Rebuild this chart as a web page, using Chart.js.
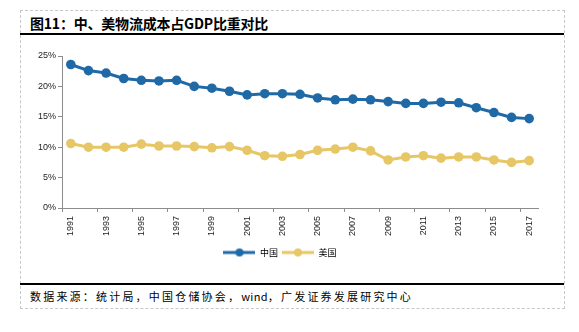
<!DOCTYPE html>
<html>
<head>
<meta charset="utf-8">
<script src="https://cdn.jsdelivr.net/npm/chart.js@4.4.1/dist/chart.umd.min.js"></script>
<style>
    body { margin: 0; background: #fff; width: 579px; height: 332px; position: relative; overflow: hidden; }
    .dash { position: absolute; border: 1px dashed #c8c8c8; }
    .rule { position: absolute; height: 2px; background: #000; }
    #title {
        position: absolute; left: 30px; top: 13px;
        font: bold 14px "Noto Sans CJK SC", sans-serif; color: #000; letter-spacing: -0.2px;
    }
    #source {
        position: absolute; left: 30px; top: 288px;
        font: 11px "Noto Sans CJK SC", sans-serif; color: #000; letter-spacing: 2.2px;
    }
    #source span { letter-spacing: 0.3px; }
    #wrap { position: absolute; left: 22px; top: 35px; width: 540px; height: 249px; }
</style>
</head>
<body>
<div class="dash" style="left:20px; top:10px; width:543px; height:297px;"></div>
<div class="rule" style="left:20px; top:33px; width:544px;"></div>
<div class="rule" style="left:20px; top:283px; width:544px;"></div>
<div id="title">图11：中、美物流成本占GDP比重对比</div>
<div id="source">数据来源：统计局，中国仓储协会，<span>wind</span>，广发证券发展研究中心</div>
<div id="wrap"><canvas id="logisticsChart"></canvas></div>

<script>
// Data (% of GDP)
const years = ['1991', '1992', '1993', '1994', '1995', '1996', '1997', '1998', '1999', '2000',
    '2001', '2002', '2003', '2004', '2005', '2006', '2007', '2008', '2009', '2010',
    '2011', '2012', '2013', '2014', '2015', '2016', '2017'];
const chinaShare = [23.6, 22.6, 22.2, 21.3, 21.0, 20.9, 21.0, 20.0, 19.7, 19.2,
    18.6, 18.8, 18.8, 18.7, 18.1, 17.8, 17.9, 17.8, 17.5, 17.2,
    17.2, 17.4, 17.3, 16.5, 15.7, 14.9, 14.7];
const usShare = [10.6, 10.0, 10.0, 10.0, 10.5, 10.2, 10.2, 10.1, 9.9, 10.1,
    9.5, 8.6, 8.5, 8.8, 9.5, 9.7, 10.0, 9.4, 7.9, 8.4,
    8.6, 8.2, 8.4, 8.4, 7.9, 7.5, 7.8];
const yTicks = [0, 5, 10, 15, 20, 25];
const seriesNames = ['中国', '美国'];

const blue = '#1f6aa6';
const yellow = '#e6c665';
const axisGrey = '#8c8c8c';

// line + dot icon for the legend
function legendIcon(color) {
    const c = document.createElement('canvas');
    c.width = 32;
    c.height = 10;
    const g = c.getContext('2d');
    g.strokeStyle = color;
    g.lineWidth = 3;
    g.beginPath();
    g.moveTo(0, 5);
    g.lineTo(32, 5);
    g.stroke();
    g.fillStyle = color;
    g.beginPath();
    g.arc(16, 5, 4, 0, Math.PI * 2);
    g.fill();
    return c;
}
const legendIcons = [legendIcon(blue), legendIcon(yellow)];

document.addEventListener('DOMContentLoaded', function() {
    const ctx = document.getElementById('logisticsChart').getContext('2d');
    new Chart(ctx, {
        type: 'line',
        data: {
            labels: years,
            datasets: [{
                label: seriesNames[0],
                data: chinaShare,
                borderColor: blue,
                backgroundColor: blue,
                borderWidth: 3,
                pointRadius: 4.8,
                pointBorderWidth: 0,
                pointBackgroundColor: blue
            }, {
                label: seriesNames[1],
                data: usShare,
                borderColor: yellow,
                backgroundColor: yellow,
                borderWidth: 3,
                pointRadius: 4.8,
                pointBorderWidth: 0,
                pointBackgroundColor: yellow
            }]
        },
        options: {
            responsive: true,
            maintainAspectRatio: false,
            animation: false,
            layout: {
                padding: { top: 21, right: 24, left: 0, bottom: 17 }
            },
            plugins: {
                tooltip: { enabled: false },
                legend: {
                    position: 'bottom',
                    labels: {
                        usePointStyle: true,
                        pointStyleWidth: 32,
                        padding: 4,
                        color: '#000',
                        font: { family: '"Noto Sans CJK SC"', size: 9 },
                        generateLabels: function(chart) {
                            const items = Chart.defaults.plugins.legend.labels.generateLabels(chart);
                            items.forEach(function(it, i) { it.pointStyle = legendIcons[i]; });
                            return items;
                        }
                    }
                }
            },
            scales: {
                x: {
                    offset: true,
                    afterFit: function(scale) { scale.height = 36; },
                    border: { color: axisGrey, width: 1 },
                    grid: {
                        offset: true,
                        drawOnChartArea: false,
                        tickLength: 4,
                        tickColor: function(c) { return c.index % 2 === 0 ? axisGrey : 'transparent'; }
                    },
                    ticks: {
                        autoSkip: false,
                        minRotation: 90,
                        maxRotation: 90,
                        padding: 4,
                        color: '#222',
                        font: { family: '"Liberation Sans"', size: 9 },
                        callback: function(v, i) { return i % 2 === 0 ? years[i] : ''; }
                    }
                },
                y: {
                    min: 0,
                    max: 25,
                    afterFit: function(scale) { scale.width = 40; },
                    afterBuildTicks: function(scale) {
                        scale.ticks = yTicks.map(function(v) { return { value: v }; });
                    },
                    border: { color: axisGrey, width: 1 },
                    grid: {
                        drawOnChartArea: false,
                        tickLength: 4,
                        color: axisGrey
                    },
                    ticks: {
                        padding: 2,
                        color: '#222',
                        font: { family: '"Liberation Sans"', size: 9 },
                        callback: function(v) { return v + '%'; }
                    }
                }
            }
        }
    });
});
</script>
</body>
</html>
